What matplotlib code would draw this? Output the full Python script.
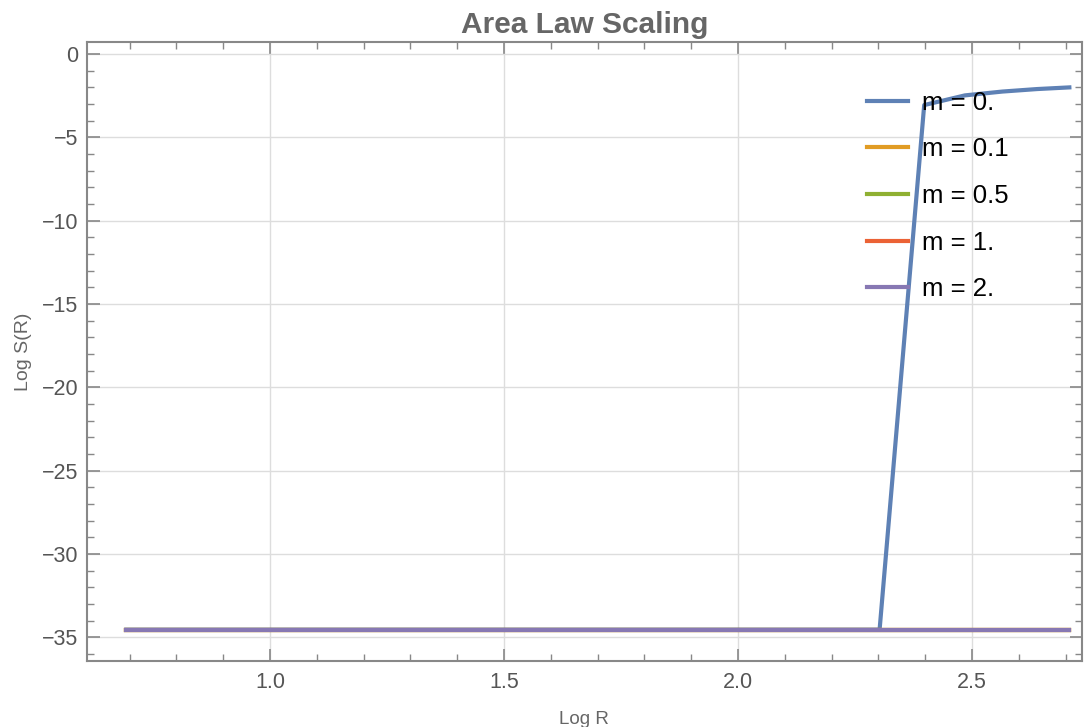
import numpy as np
import matplotlib.pyplot as plt
from matplotlib.ticker import MultipleLocator

# log of region size R = 2..15
R = np.arange(2, 16)
log_r = np.log(R)

floor_val = -34.54
s_m0 = [floor_val] * 9 + [-3.06, -2.48, -2.25, -2.10, -2.00]
s_m01 = [floor_val] * 14
s_m05 = [floor_val] * 14
s_m1 = [floor_val] * 14
s_m2 = [floor_val] * 14

labels = ["m = 0.", "m = 0.1", "m = 0.5", "m = 1.", "m = 2."]
colors = ["#5E81B5", "#E19C24", "#8FB032", "#EB6235", "#8778B3"]

plt.rcParams['font.family'] = ['Liberation Sans', 'DejaVu Sans']

fig = plt.figure(figsize=(10.85, 7.27), dpi=100)
ax = fig.add_axes([0.0799, 0.0908, 0.9173, 0.8518])

for s, lab, c in zip([s_m0, s_m01, s_m05, s_m1, s_m2], labels, colors):
    ax.plot(log_r, s, color=c, lw=3, label=lab)

ax.set_xlim(0.6083, 2.735)
ax.set_ylim(-36.42, 0.74)

ax.xaxis.set_major_locator(MultipleLocator(0.5))
ax.xaxis.set_minor_locator(MultipleLocator(0.1))
ax.yaxis.set_major_locator(MultipleLocator(5))
ax.yaxis.set_minor_locator(MultipleLocator(1))
ax.xaxis.set_major_formatter(plt.FuncFormatter(lambda v, p: f"{v:.1f}"))
ax.yaxis.set_major_formatter(plt.FuncFormatter(lambda v, p: f"\u2212{abs(v):.0f}" if v < 0 else f"{v:.0f}"))

ax.tick_params(which='both', direction='in', top=True, right=True, colors='#888888',
               labelcolor='#555555', labelsize=15.5)
ax.tick_params(which='major', length=9, width=1.2)
ax.tick_params(axis='x', which='major', pad=8)
ax.tick_params(axis='y', which='major', pad=6)
ax.tick_params(which='minor', length=5, width=1)
for sp in ax.spines.values():
    sp.set_color('#888888')
    sp.set_linewidth(1.5)

ax.grid(True, which='major', color='#dddddd', lw=1)
ax.set_axisbelow(True)

ax.set_title("Area Law Scaling", fontsize=21.5, fontweight='bold', color='#666666', pad=6)
ax.set_xlabel("Log R", fontsize=13.5, color='#666666', labelpad=13)
ax.set_ylabel("Log S(R)", fontsize=14, color='#666666', labelpad=7)

ax.legend(loc='upper left', bbox_to_anchor=(0.761, 0.958), frameon=False, fontsize=18.5,
          handlelength=1.6, handletextpad=0.55, labelspacing=0.88)

fig.savefig("out.png", dpi=100)
